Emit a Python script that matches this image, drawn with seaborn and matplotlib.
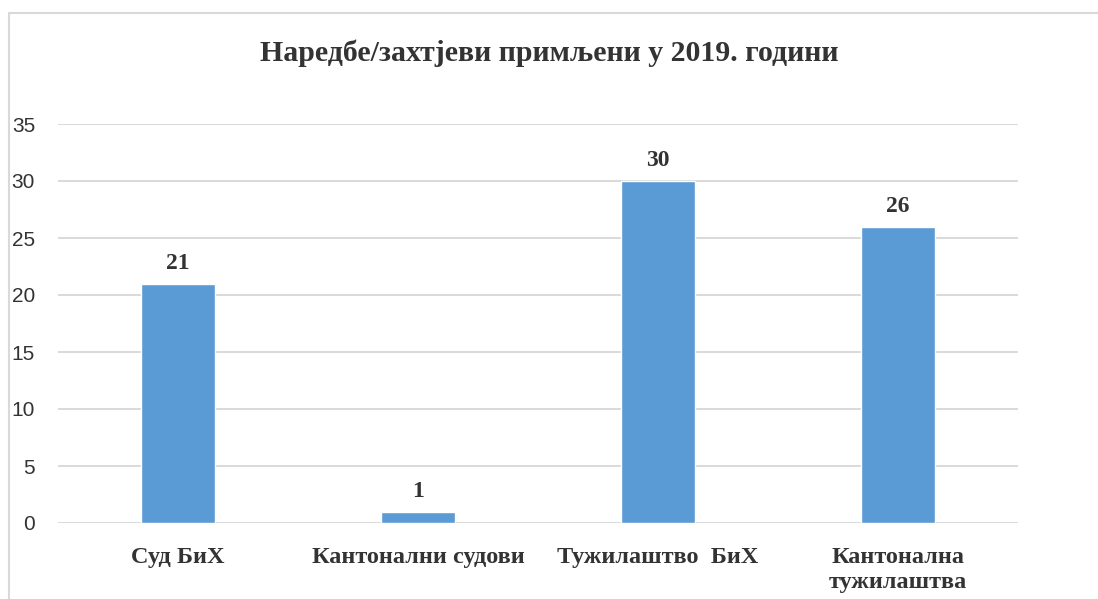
import matplotlib
matplotlib.use("Agg")
import matplotlib.pyplot as plt
import seaborn as sns
import pandas as pd
from matplotlib.patches import Rectangle

categories = ["Суд БиХ", "Кантонални судови", "Тужилаштво  БиХ", "Кантонална\nтужилаштва"]
values = [21, 1, 30, 26]
yticks = [0, 5, 10, 15, 20, 25, 30, 35]
title = "Наредбе/захтјеви примљени у 2019. години"

sns.set_theme(style="white")
plt.rcParams['font.family'] = ['Liberation Serif', 'DejaVu Serif']

df = pd.DataFrame({"cat": categories, "val": values})

fig = plt.figure(figsize=(10.98, 5.99), dpi=100)
ax = fig.add_axes([58/1098, 1-523/599, (1018-58)/1098, (523-124)/599])

sns.barplot(data=df, x="cat", y="val", color="#5B9BD5", saturation=1, width=0.31, ax=ax, zorder=3)

ax.set_ylim(0, 35)
ax.set_yticks(yticks)
ax.set_yticklabels([str(t) for t in yticks], fontfamily="Liberation Sans", fontsize=15, color="#333333")
ax.yaxis.grid(True, color="#d9d9d9", linewidth=1.4, zorder=0)
ax.set_axisbelow(True)
for s in ax.spines.values():
    s.set_visible(False)
ax.tick_params(axis="y", length=0, pad=16.5)
ax.tick_params(axis="x", length=0, pad=17)
ax.set_xticks(range(len(categories)))
ax.set_xticklabels(categories, fontsize=17.5, fontweight="bold", color="#333333", va="top",
                   linespacing=1.3, multialignment="center")
ax.set_xlabel("")
ax.set_ylabel("")

for c in ax.containers:
    ax.bar_label(c, labels=[str(v) for v in values], padding=7, fontsize=17, fontweight="bold", color="#333333")

fig.text(0.5, 1-53/599, title, ha="center", va="center", fontsize=21.5, fontweight="bold", color="#333333")

fig.patches.append(Rectangle((9/1098, -0.1), 1.2, 1-13/599+0.1, transform=fig.transFigure,
                             fill=False, edgecolor="#d9d9d9", linewidth=1.5))

fig.savefig("out.png", dpi=100)
